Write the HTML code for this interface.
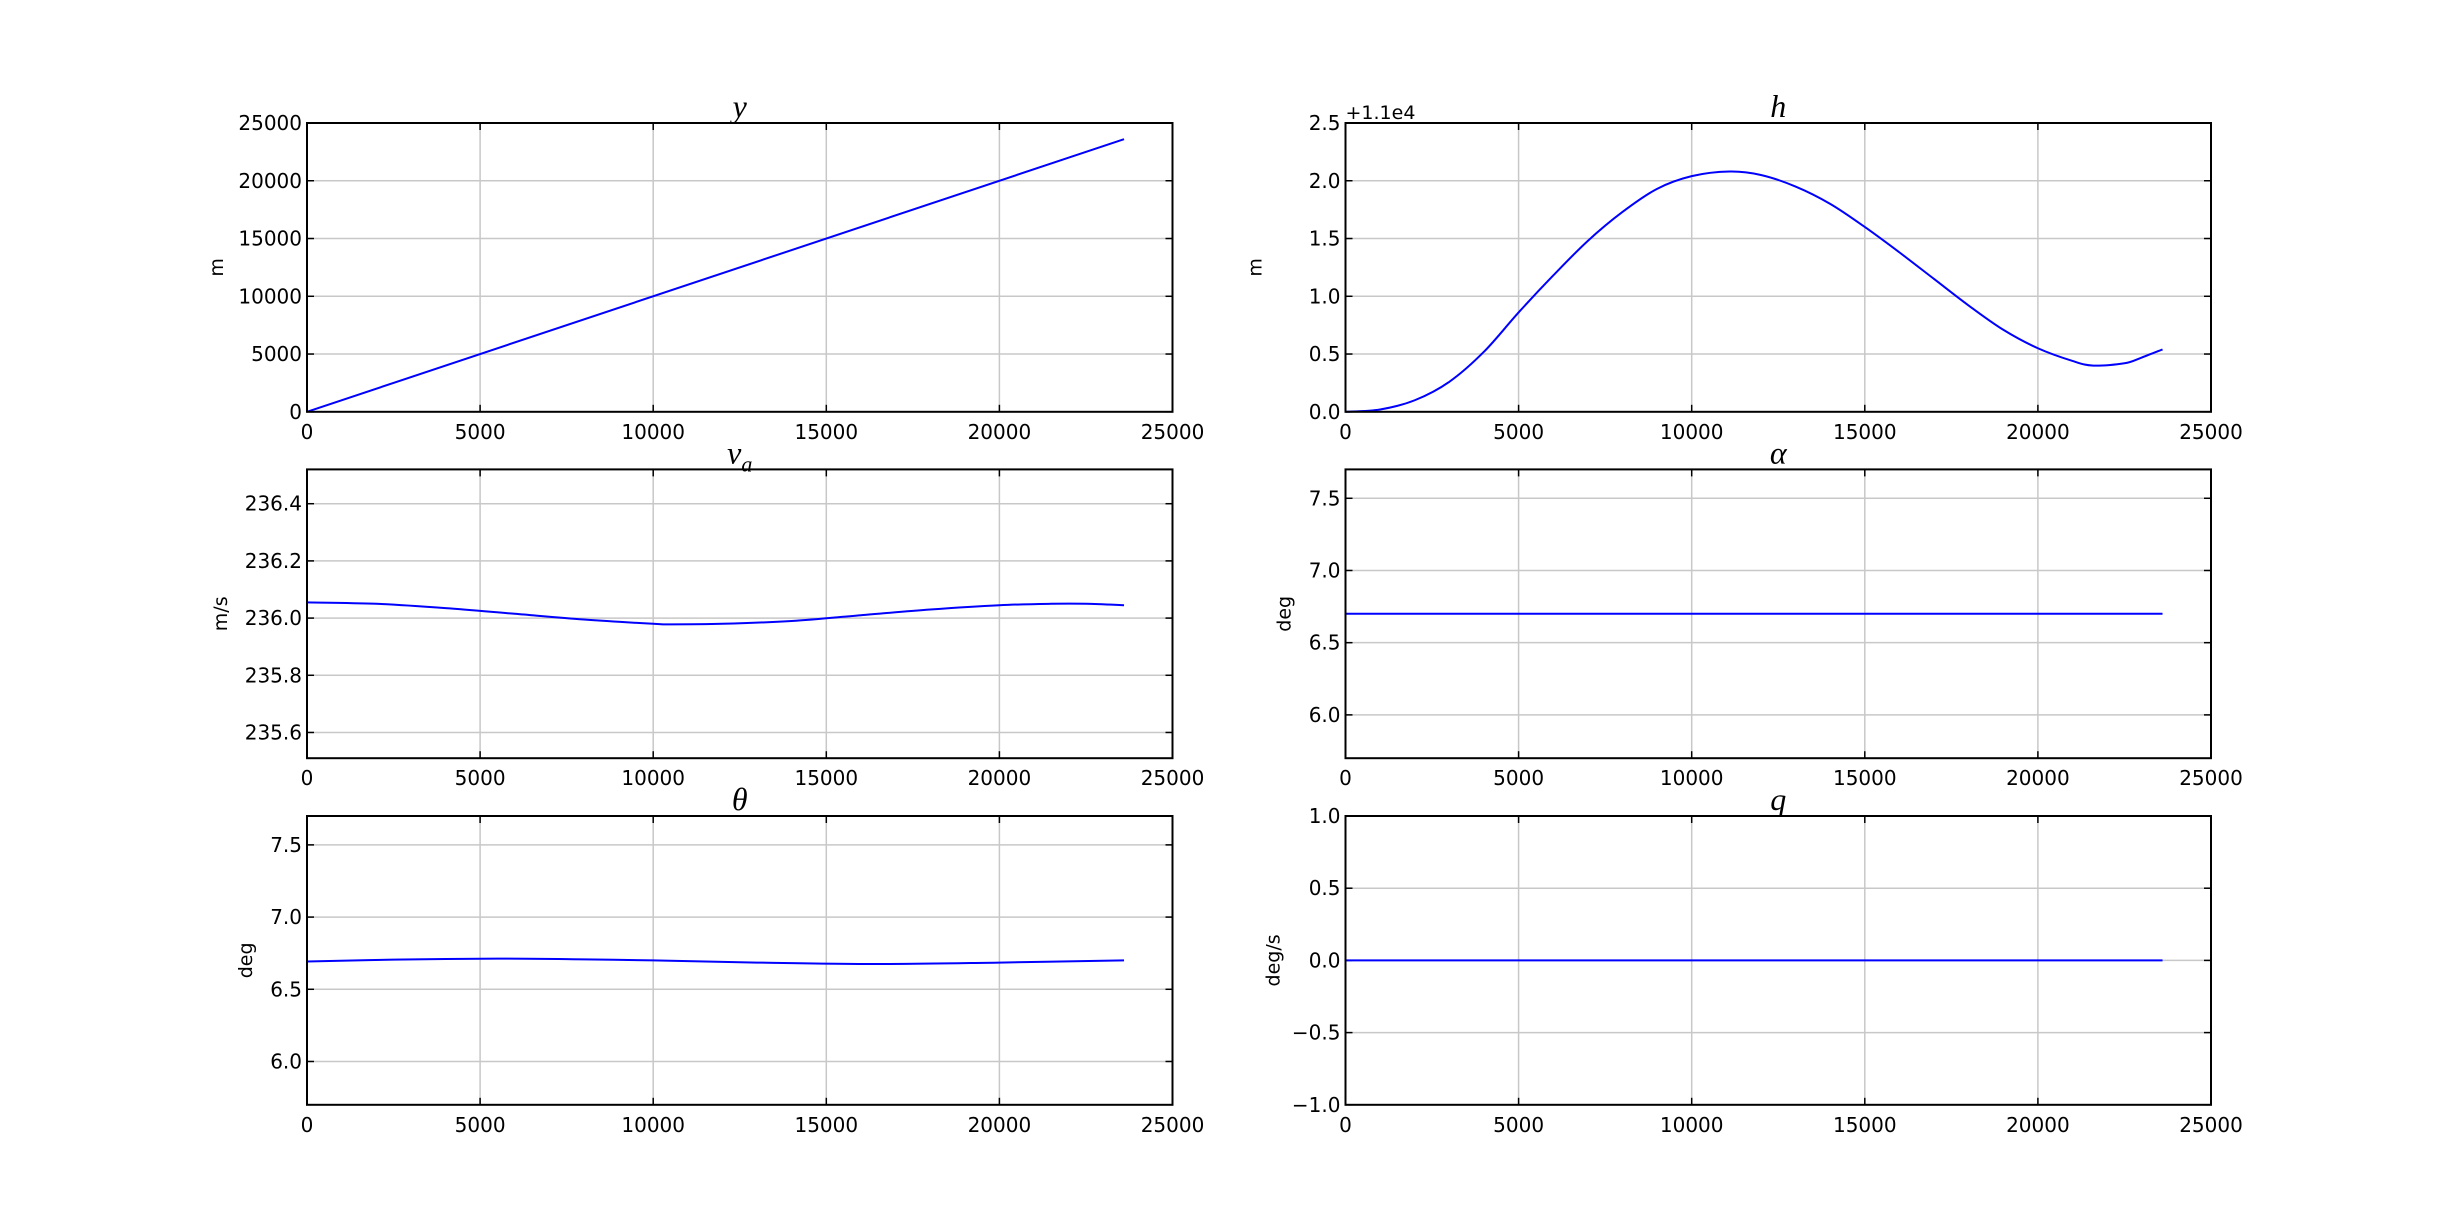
<!DOCTYPE html>
<html><head><meta charset="utf-8"><style>
html,body{margin:0;padding:0;background:#fff;}
svg{display:block;font-family:"DejaVu Sans","Liberation Sans",sans-serif;}
.tick{font-size:20px;fill:#000;}
.ttl{font-family:"Liberation Serif",serif;font-style:italic;font-size:32px;}
</style></head><body>
<svg id="fig" width="2457" height="1228" viewBox="0 0 2457 1228"></svg>
<script>
const xTicks = [0,5000,10000,15000,20000,25000];
const yX = [0, 23600];
const yY = [0, 23600];
const hX = [0,1000,2000,3000,4000,5000,6000,7000,8000,9000,10000,11100,12000,13000,14000,15000,16000,17000,18000,19000,20000,21000,21600,22500,23000,23600];
const hY = [0,0.02,0.10,0.26,0.52,0.86,1.18,1.48,1.73,1.93,2.04,2.08,2.05,1.95,1.80,1.60,1.38,1.15,0.92,0.71,0.55,0.44,0.40,0.42,0.47,0.54];
const vX = [0,2000,4000,6000,8000,10000,10500,12000,14000,16000,18000,20000,21500,22500,23600];
const vY = [236.055,236.05,236.035,236.015,235.995,235.98,235.978,235.98,235.99,236.01,236.03,236.045,236.05,236.05,236.045];
const aX = [0,23600];
const aY = [6.7,6.7];
const tX = [0,2500,5500,8000,10000,13000,16500,20000,23600];
const tY = [6.692,6.705,6.712,6.707,6.70,6.685,6.675,6.685,6.70];
const qX = [0,23600];
const qY = [0,0];

const NS="http://www.w3.org/2000/svg";
const svg=document.getElementById('fig');
function mk(tag,attrs,parent){const e=document.createElementNS(NS,tag);for(const k in attrs)e.setAttribute(k,attrs[k]);(parent||svg).appendChild(e);return e;}
function smooth(P){
 if(P.length<3) return 'M'+P.map(p=>p[0].toFixed(2)+','+p[1].toFixed(2)).join(' L');
 let d='M'+P[0][0].toFixed(2)+','+P[0][1].toFixed(2);
 for(let i=0;i<P.length-1;i++){
  const p0=P[Math.max(0,i-1)],p1=P[i],p2=P[i+1],p3=P[Math.min(P.length-1,i+2)];
  const c1=[p1[0]+(p2[0]-p0[0])/6,p1[1]+(p2[1]-p0[1])/6];
  const c2=[p2[0]-(p3[0]-p1[0])/6,p2[1]-(p3[1]-p1[1])/6];
  d+=' C'+c1.map(v=>v.toFixed(2)).join(',')+' '+c2.map(v=>v.toFixed(2)).join(',')+' '+p2.map(v=>v.toFixed(2)).join(',');
 }
 return d;
}
const W=865.5,H=288.8,cols=[307,1345.5],rows=[123,469.4,816];

const panels=[
 {name:'y',title:'y',sub:'',ylabel:'m',c:0,r:0,ylim:[0,25000],yt:[0,5000,10000,15000,20000,25000],fmt:v=>String(v),x:yX,y:yY,lx:84},
 {name:'h',title:'h',sub:'',ylabel:'m',c:1,r:0,ylim:[0,2.5],yt:[0,0.5,1,1.5,2,2.5],fmt:v=>v.toFixed(1),x:hX,y:hY,offset:'+1.1e4',lx:84},
 {name:'va',title:'v',sub:'a',ylabel:'m/s',c:0,r:1,ylim:[235.51,236.52],yt:[235.6,235.8,236.0,236.2,236.4],fmt:v=>v.toFixed(1),x:vX,y:vY,lx:80},
 {name:'alpha',title:'α',sub:'',ylabel:'deg',c:1,r:1,ylim:[5.7,7.7],yt:[6.0,6.5,7.0,7.5],fmt:v=>v.toFixed(1),x:aX,y:aY,lx:55},
 {name:'theta',title:'θ',sub:'',ylabel:'deg',c:0,r:2,ylim:[5.7,7.7],yt:[6.0,6.5,7.0,7.5],fmt:v=>v.toFixed(1),x:tX,y:tY,lx:55},
 {name:'q',title:'q',sub:'',ylabel:'deg/s',c:1,r:2,ylim:[-1,1],yt:[-1,-0.5,0,0.5,1],fmt:v=>(v<0?'−':'')+Math.abs(v).toFixed(1),x:qX,y:qY,lx:66}
];

panels.forEach(p=>{
 const L=cols[p.c],T=rows[p.r];
 const g=mk('g',{});
 
 
 const sx=v=>L+v/25000*W;
 const sy=v=>T+H-(v-p.ylim[0])/(p.ylim[1]-p.ylim[0])*H;
 xTicks.forEach(t=>{
  const X=sx(t);
  const gl=mk('line',{x1:X,x2:X,y1:T,y2:T+H,stroke:'#c8c8c8','stroke-width':1.5},g);
  
  
  mk('line',{x1:X,x2:X,y1:T+H,y2:T+H-7,stroke:'#000','stroke-width':1.5},g);
  mk('line',{x1:X,x2:X,y1:T,y2:T+7,stroke:'#000','stroke-width':1.5},g);
  const tl=mk('text',{x:X,y:T+H+27,'text-anchor':'middle',class:'tick'},g);
  tl.textContent=String(t);
  
  
 });
 p.yt.forEach(t=>{
  const Y=sy(t);
  const gl=mk('line',{x1:L,x2:L+W,y1:Y,y2:Y,stroke:'#c8c8c8','stroke-width':1.5},g);
  
  
  mk('line',{x1:L,x2:L+7,y1:Y,y2:Y,stroke:'#000','stroke-width':1.5},g);
  mk('line',{x1:L+W,x2:L+W-7,y1:Y,y2:Y,stroke:'#000','stroke-width':1.5},g);
  const tl=mk('text',{x:L-5,y:Y+7,'text-anchor':'end',class:'tick'},g);
  tl.textContent=p.fmt(t);
  
  
 });
 const P=p.x.map((v,i)=>[sx(v),sy(p.y[i])]);
 const ln=mk('path',{d:smooth(P),fill:'none',stroke:'#0000ff','stroke-width':2,'stroke-linejoin':'round'},g);
 
 
 const fr=mk('rect',{x:L,y:T,width:W,height:H,fill:'none',stroke:'#000','stroke-width':2},g);
 
 
 const tt=mk('text',{x:L+W/2,y:T-6,'text-anchor':'middle',class:'ttl'},g);
 tt.textContent=p.title;
 if(p.sub){const s=mk('tspan',{'font-size':'22px',dy:'8'},tt);s.textContent=p.sub;}
 
 
 const yl=mk('text',{x:0,y:0,'text-anchor':'middle','font-size':'19px',transform:`translate(${L-p.lx},${T+H/2}) rotate(-90)`},g);
 yl.textContent=p.ylabel;
 
 
 if(p.offset){
  const o=mk('text',{x:L,y:T-4,'font-size':'19px'},g);
  o.textContent=p.offset;
  
  
 }
});
</script>
</body></html>
